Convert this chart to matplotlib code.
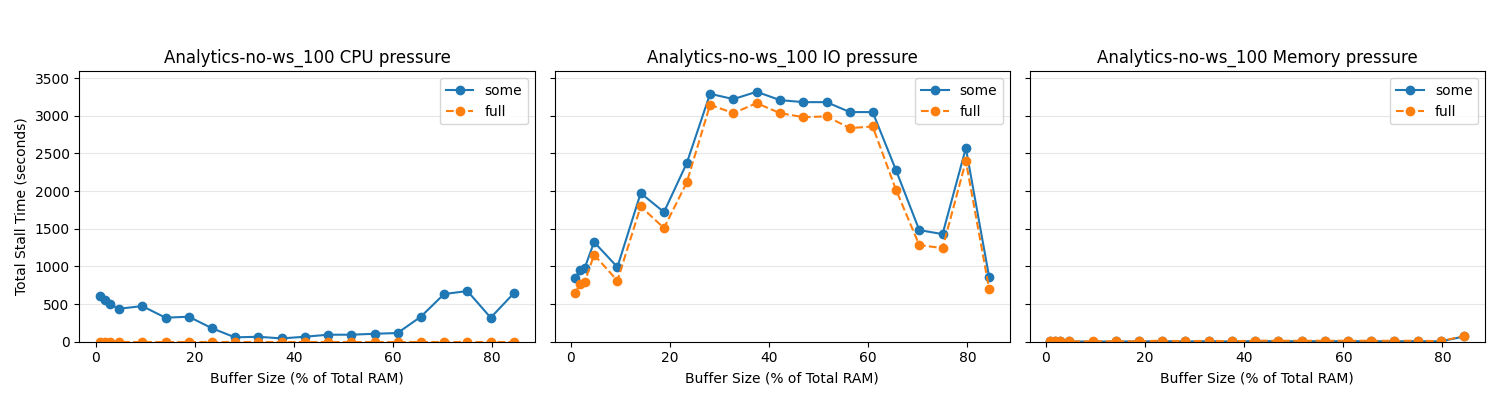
import numpy as np
import matplotlib.pyplot as plt

# buffer size as % of total RAM
buf = [0.9, 1.9, 2.8, 4.7, 9.4, 14.1, 18.8, 23.4, 28.1, 32.8, 37.5,
       42.2, 46.9, 51.6, 56.3, 60.9, 65.6, 70.3, 75.0, 79.7, 84.4]

cpu_some = [611, 558, 500, 438, 473, 319, 332, 181, 58, 66, 44,
            66, 93, 93, 106, 115, 332, 633, 673, 319, 646]
cpu_full = [2, 2, 2, 2, 2, 2, 2, 2, 2, 2, 2,
            2, 2, 2, 2, 2, 2, 2, 2, 2, 2]

io_some = [845, 956, 978, 1323, 991, 1973, 1721, 2372, 3292, 3221, 3319,
           3208, 3181, 3181, 3049, 3049, 2279, 1482, 1429, 2571, 858]
io_full = [646, 770, 792, 1155, 810, 1796, 1509, 2115, 3146, 3035, 3168,
           3035, 2982, 2991, 2836, 2858, 2018, 1283, 1243, 2398, 699]

mem_some = [3, 3, 3, 3, 2, 3, 3, 8, 3, 7, 3,
            8, 7, 7, 7, 7, 7, 6, 7, 5, 70]
mem_full = [5, 5, 5, 5, 4, 5, 5, 14, 6, 13, 6,
            14, 13, 13, 13, 13, 13, 12, 13, 8, 78]

name = 'Analytics-no-ws_100'
panels = [('CPU', cpu_some, cpu_full),
          ('IO', io_some, io_full),
          ('Memory', mem_some, mem_full)]

fig, axs = plt.subplots(1, 3, figsize=(15, 4), sharey=True)
for ax, (kind, some, full) in zip(axs, panels):
    ax.plot(buf, some, 'o-', label='some')
    ax.plot(buf, full, 'o--', label='full')
    ax.set_title(f'{name} {kind} pressure')
    ax.set_xlabel('Buffer Size (% of Total RAM)')
    ax.grid(True, axis='y', alpha=0.3)
    ax.legend(loc='upper right')
axs[0].set_ylabel('Total Stall Time (seconds)')
axs[0].set_ylim(0, 3590)

plt.tight_layout(rect=[0, 0, 1, 0.915])
plt.savefig('out.png')
